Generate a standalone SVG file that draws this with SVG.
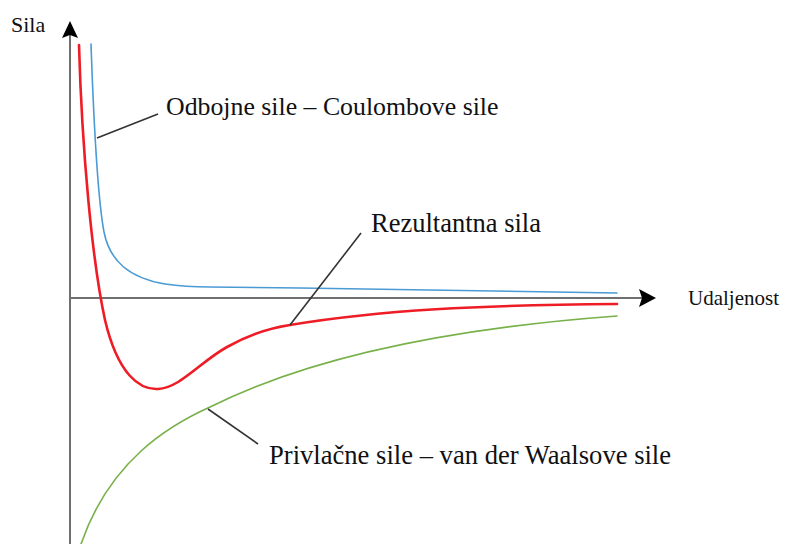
<svg xmlns="http://www.w3.org/2000/svg" width="785" height="544" viewBox="0 0 785 544">
<style>
.lbl{font-family:"Liberation Serif","Times New Roman",serif;fill:#111;}
.axis{stroke:#707070;stroke-width:2;fill:none;}
.curve{fill:none;stroke-linecap:round;}
.leader{stroke:#333;stroke-width:1.6;fill:none;}
</style>
<rect width="785" height="544" fill="#fff"/>
<g id="axes">
<line class="axis" x1="70" y1="544" x2="70" y2="34"/>
<polygon points="70,21 62,38 70,35 78,38" fill="#000"/>
<line class="axis" x1="70" y1="298" x2="643" y2="298"/>
<polygon points="656,298 639,289 642,298 639,307" fill="#000"/>
</g>
<g id="repulsive">
<path class="curve" stroke="#4a9ad4" stroke-width="1.6" d="M91,44 C94,130 98,200 104,232 C110,262 130,278 165,284 C185,287 200,287 210,287 L300,288 C420,290 520,292 617,293"/>
</g>
<g id="resultant">
<path class="curve" stroke="#ee1c25" stroke-width="2.6" d="M79,45 C82,150 92,260 105,320 C118,375 140,390 158,389 C180,388 200,362 227,347 C250,334 270,328 290,325 C380,310 480,305 617,304"/>
</g>
<g id="attractive">
<path class="curve" stroke="#78b04a" stroke-width="1.6" d="M81,544 C110,460 170,425 210,407 C280,372 400,332 617,316"/>
</g>
<g id="connectors">
<line class="leader" x1="97" y1="138" x2="158" y2="114"/>
<line class="leader" x1="290" y1="325" x2="361" y2="233"/>
<line class="leader" x1="208" y1="409" x2="258" y2="444"/>
</g>
<g id="label-sila"><text class="lbl" x="11" y="32" font-size="22">Sila</text></g>
<g id="label-udaljenost"><text class="lbl" x="688" y="305" font-size="21">Udaljenost</text></g>
<g id="label-odbojne"><text class="lbl" x="166" y="115" font-size="25.8">Odbojne sile – Coulombove sile</text></g>
<g id="label-rezultantna"><text class="lbl" x="371" y="232" font-size="26.5">Rezultantna sila</text></g>
<g id="label-privlacne"><text class="lbl" x="269" y="464" font-size="26.6">Privlačne sile – van der Waalsove sile</text></g>
</svg>
